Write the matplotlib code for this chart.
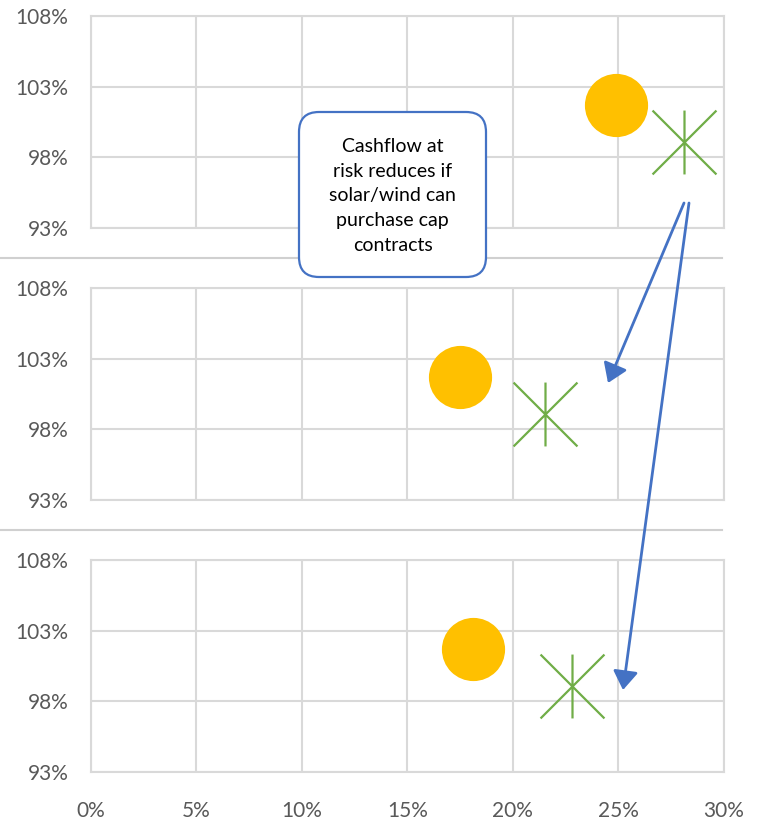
import matplotlib
matplotlib.use("Agg")
import matplotlib.pyplot as plt
from matplotlib.path import Path
from matplotlib.patches import FancyBboxPatch, FancyArrowPatch
from matplotlib.lines import Line2D

# Scenario data: x = cashflow at risk, y = relative value
scenarios = ["Base", "Cap contracts A", "Cap contracts B"]
solar_x = [0.249, 0.175, 0.181]
solar_y = [1.017, 1.017, 1.017]
wind_x = [0.281, 0.215, 0.228]
wind_y = [0.991, 0.991, 0.991]

x_ticks = [0.00, 0.05, 0.10, 0.15, 0.20, 0.25, 0.30]
y_ticks = [0.93, 0.98, 1.03, 1.08]

note_text = "Cashflow at\nrisk reduces if\nsolar/wind can\npurchase cap\ncontracts"

W, H = 769, 824
fig = plt.figure(figsize=(W / 100, H / 100), dpi=100)
plt.rcParams["font.family"] = ["Lato", "DejaVu Sans"]

GRID = "#D9D9D9"
TICK = "#595959"
SOLAR = "#FFC000"
WIND = "#70AD47"
BLUE = "#4472C4"

# asterisk marker: vertical bar plus two diagonals
star_path = Path(
    [(0, -1), (0, 1), (-1, -1), (1, 1), (-1, 1), (1, -1)],
    [Path.MOVETO, Path.LINETO, Path.MOVETO, Path.LINETO, Path.MOVETO, Path.LINETO],
)

left, right = 90.5 / W, 724 / W
panel_px = [(16, 228), (288, 500), (560, 772)]

axes = []
for i, (top, bot) in enumerate(panel_px):
    ax = fig.add_axes([left, 1 - bot / H, right - left, (bot - top) / H])
    ax.set_xlim(0, 0.30)
    ax.set_ylim(0.93, 1.08)
    ax.set_xticks(x_ticks)
    ax.set_yticks(y_ticks)
    ax.set_yticklabels([f"{round(v * 100)}%" for v in y_ticks])
    if i == 2:
        ax.set_xticklabels([f"{round(v * 100)}%" for v in x_ticks])
    else:
        ax.set_xticklabels([])
    ax.grid(True, color=GRID, linewidth=1.5)
    ax.set_axisbelow(True)
    for s in ax.spines.values():
        s.set_color(GRID)
        s.set_linewidth(1.5)
    ax.tick_params(length=0, labelsize=15, labelcolor=TICK)
    ax.tick_params(axis="y", pad=16)
    ax.tick_params(axis="x", pad=21)
    ax.plot([solar_x[i]], [solar_y[i]], "o", color=SOLAR, markersize=45.5,
            markeredgewidth=0, clip_on=False, zorder=3)
    ax.plot([wind_x[i]], [wind_y[i]], marker=star_path, linestyle="none",
            color=WIND, markersize=46, markeredgewidth=1.6, fillstyle="none",
            clip_on=False, zorder=3)
    axes.append(ax)

# separators between panels
for y in (258, 530):
    fig.add_artist(Line2D([0, 722 / W], [1 - y / H, 1 - y / H],
                          transform=fig.transFigure, color="#D0D0D0", linewidth=1.5))

# callout box (inches, isotropic)
inch = fig.dpi_scale_trans
bx0, bx1 = 299 / 100, 486 / 100
by0, by1 = (H - 277) / 100, (H - 112) / 100
box = FancyBboxPatch((bx0, by0), bx1 - bx0, by1 - by0,
                     boxstyle="round,pad=0,rounding_size=0.2",
                     transform=inch, facecolor="white", edgecolor=BLUE,
                     linewidth=1.6, zorder=5)
fig.add_artist(box)
fig.text((bx0 + bx1) / 2, (by0 + by1) / 2 - 0.015, note_text, transform=inch,
         ha="center", va="center", fontsize=14, linespacing=1.56,
         color="black", zorder=6)

# arrows
for (x0, y0, x1, y1) in [(684, 203, 608, 383), (689, 203, 623, 690)]:
    fig.add_artist(FancyArrowPatch(
        (x0 / 100, (H - y0) / 100), (x1 / 100, (H - y1) / 100),
        transform=inch, arrowstyle="-|>,head_length=6,head_width=4",
        mutation_scale=1.9, color=BLUE, linewidth=2, shrinkA=0, shrinkB=0,
        zorder=7))

fig.savefig("out.png", dpi=100)
